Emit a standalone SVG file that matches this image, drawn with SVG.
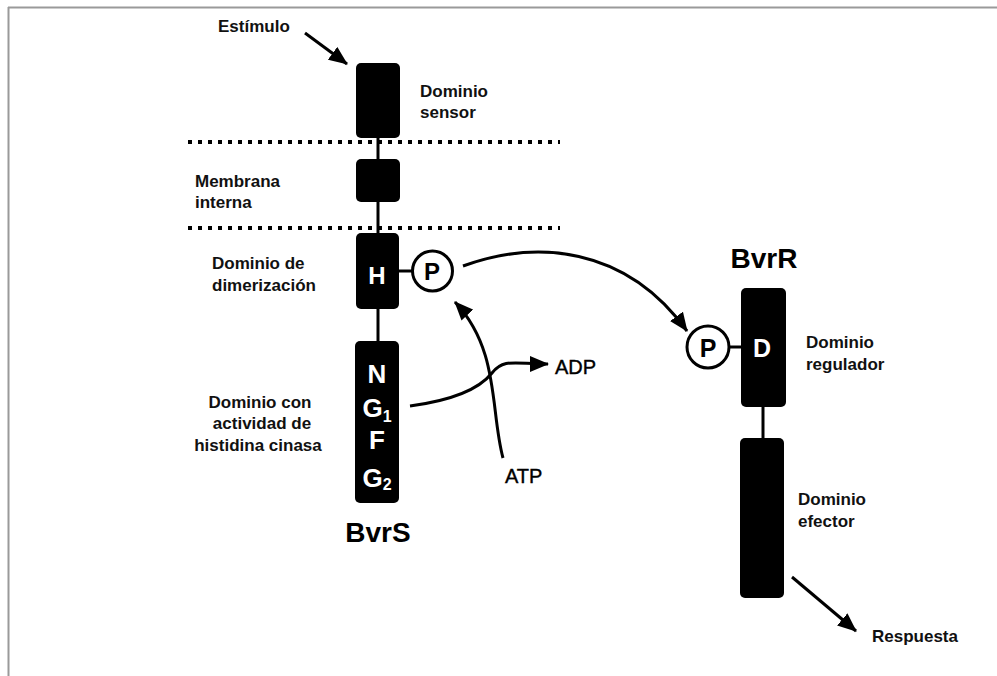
<svg xmlns="http://www.w3.org/2000/svg" width="997" height="676" viewBox="0 0 997 676">
<style>
.lbl{font-family:"Liberation Sans",Arial,sans-serif;font-weight:bold;font-size:17px;fill:#111}
.big{font-family:"Liberation Sans",Arial,sans-serif;font-weight:bold;font-size:28px;fill:#000}
.chem{font-family:"Liberation Sans",Arial,sans-serif;font-size:20px;fill:#000;stroke:#000;stroke-width:0.4}
.dom{fill:#000}
.let{font-family:"Liberation Sans",Arial,sans-serif;font-weight:bold;fill:#fff;text-anchor:middle}
.plet{font-family:"Liberation Sans",Arial,sans-serif;font-weight:bold;fill:#000;text-anchor:middle}
.link{stroke:#000;stroke-width:3;fill:none}
.conn{stroke:#000;stroke-width:3;fill:none}
.memb{stroke:#000;stroke-width:4;stroke-dasharray:4 6}
.pc{fill:#fff;stroke:#000;stroke-width:3}
</style>
<defs>
<marker id="ah" markerUnits="userSpaceOnUse" markerWidth="20" markerHeight="16" refX="18" refY="8" orient="auto">
<path d="M0,0 L19,8 L0,16 z" fill="#000"/>
</marker>
</defs>
<rect width="997" height="676" fill="#fff"/>
<g id="frame">
<line x1="8" y1="7.5" x2="997" y2="7.5" stroke="#9a9a9a" stroke-width="2"/>
<line x1="8.5" y1="7" x2="8.5" y2="676" stroke="#9a9a9a" stroke-width="2"/>
</g>
<g id="membrane">
<line class="memb" x1="188" y1="142" x2="560" y2="142"/>
<line class="memb" x1="188" y1="228" x2="560" y2="228"/>
<text class="lbl" x="195" y="187">Membrana</text>
<text class="lbl" x="195" y="208">interna</text>
</g>
<g id="bvrs-links">
<line class="link" x1="378" y1="136" x2="378" y2="161"/>
<line class="link" x1="378" y1="200" x2="378" y2="235"/>
<line class="link" x1="378" y1="307" x2="378" y2="343"/>
<line class="link" x1="397" y1="271" x2="414" y2="271"/>
</g>
<g id="sensor">
<rect class="dom" x="356" y="63" width="44" height="75" rx="5"/>
<text class="lbl" x="420" y="97">Dominio</text>
<text class="lbl" x="420" y="118">sensor</text>
</g>
<g id="tm">
<rect class="dom" x="356" y="159" width="44" height="43" rx="5"/>
</g>
<g id="h-domain">
<rect class="dom" x="356" y="233" width="43" height="76" rx="5"/>
<text class="let" x="377" y="284" font-size="24">H</text>
<text class="lbl" x="212" y="269">Dominio de</text>
<text class="lbl" x="212" y="291">dimerización</text>
</g>
<g id="p1">
<circle class="pc" cx="432.5" cy="271" r="20"/>
<text class="plet" x="432" y="280" font-size="24">P</text>
</g>
<g id="kinase">
<rect class="dom" x="355" y="341" width="44" height="162" rx="5"/>
<text class="let" x="377" y="383" font-size="26">N</text>
<text class="let" x="377" y="417" font-size="26">G<tspan font-size="16" dy="5">1</tspan></text>
<text class="let" x="377" y="449" font-size="26">F</text>
<text class="let" x="377" y="487" font-size="26">G<tspan font-size="16" dy="3">2</tspan></text>
<text class="lbl" x="260" y="408" text-anchor="middle">Dominio con</text>
<text class="lbl" x="262" y="429" text-anchor="middle">actividad de</text>
<text class="lbl" x="258" y="451" text-anchor="middle">histidina cinasa</text>
</g>
<g id="bvrs-title">
<text class="big" x="378" y="542" text-anchor="middle">BvrS</text>
</g>
<g id="bvrr-links">
<line class="link" x1="763" y1="405" x2="763" y2="440"/>
<line class="link" x1="728" y1="347" x2="743" y2="347"/>
</g>
<g id="regulator">
<rect class="dom" x="741" y="288" width="45" height="119" rx="5"/>
<text class="let" x="762" y="357" font-size="25">D</text>
<text class="lbl" x="806" y="348">Dominio</text>
<text class="lbl" x="806" y="370">regulador</text>
</g>
<g id="p2">
<circle class="pc" cx="708" cy="347" r="21"/>
<text class="plet" x="708" y="357" font-size="25">P</text>
</g>
<g id="effector">
<rect class="dom" x="740" y="438" width="44" height="160" rx="5"/>
<text class="lbl" x="798" y="505">Dominio</text>
<text class="lbl" x="798" y="527">efector</text>
</g>
<g id="bvrr-title">
<text class="big" x="764" y="268" text-anchor="middle">BvrR</text>
</g>
<g id="labels">
<text class="lbl" x="218" y="32">Estímulo</text>
<text class="chem" x="555" y="374">ADP</text>
<text class="chem" x="505" y="483">ATP</text>
<text class="lbl" x="872" y="642">Respuesta</text>
</g>
<g id="connectors">
<line class="conn" x1="305" y1="33" x2="347" y2="64" marker-end="url(#ah)"/>
<path class="conn" d="M463,266 C535,240 625,245 687,331" marker-end="url(#ah)"/>
<path class="conn" d="M503,458 C490,410 500,350 455,302" marker-end="url(#ah)"/>
<path class="conn" d="M410,406 C455,400 480,388 492,373 S515,364 548,364" marker-end="url(#ah)"/>
<line class="conn" x1="792" y1="577" x2="856" y2="631" marker-end="url(#ah)"/>
</g>
</svg>
